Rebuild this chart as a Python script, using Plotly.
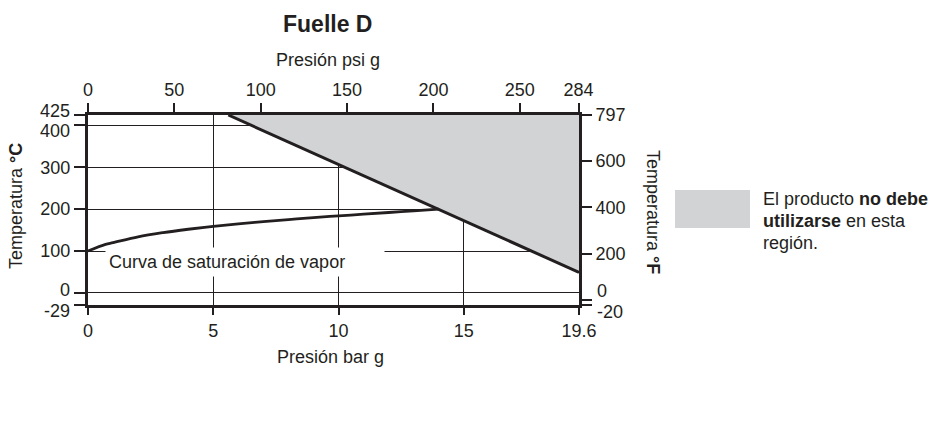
import plotly.graph_objects as go

# ---------------- data ----------------
BAR_TICKS = [0, 5, 10, 15, 19.6]
PSI_TICKS = [0, 50, 100, 150, 200, 250, 284]
C_TICKS = [-29, 0, 100, 200, 300, 400, 425]
F_TICKS = [-20, 0, 200, 400, 600, 797]

BAR_MIN, BAR_MAX = 0, 19.6
C_MIN, C_MAX = -29, 425
PSI_PER_BAR = 14.5038

# saturation curve (bar g, °C)
sat_bar = [0, 0.7, 1, 2, 3, 4, 5, 6, 7, 8, 9, 10, 11, 12, 13, 14]
sat_c = [100, 116, 120, 134, 144, 152, 159, 165, 170, 175, 180, 184, 188, 192, 196, 200]

# operating limit line (bar g, °C)
limit_bar = [5.6, 19.6]
limit_c = [425, 49]

# ---------------- style ----------------
INK = "#231f20"
GRAY = "#d1d3d4"
FONT = "Arial, Liberation Sans, sans-serif"
W, H = 933, 426
L, R_EDGE, T, B_EDGE = 88, 579, 115, 305
PW, PH = R_EDGE - L, B_EDGE - T


def px(xp):
    return (xp - L) / PW


def py(yp):
    return (B_EDGE - yp) / PH


def c_to_f(c):
    return c * 9 / 5 + 32


def label(v):
    return str(v)


# tick labels that sit too close to a neighbour are drawn as shifted annotations
C_EDGE_LABELS = {425: 4, 400: -6, 0: 3, -29: -6}   # value -> vertical pixel shift
F_EDGE_LABELS = {0: 9, -20: -7}

fig = go.Figure()

# forbidden region (fill)
fig.add_trace(go.Scatter(
    x=limit_bar + [BAR_MAX], y=limit_c + [C_MAX],
    fill="toself", fillcolor=GRAY, mode="none",
    hoverinfo="skip", showlegend=False))

# limit line
fig.add_trace(go.Scatter(
    x=limit_bar, y=limit_c, mode="lines",
    line=dict(color=INK, width=3), showlegend=False))

# saturation curve
fig.add_trace(go.Scatter(
    x=sat_bar, y=sat_c, mode="lines", line_shape="spline",
    line=dict(color=INK, width=2.8), showlegend=False))

# invisible trace to carry the secondary axes
fig.add_trace(go.Scatter(
    x=[0, BAR_MAX * PSI_PER_BAR], y=[c_to_f(C_MIN), c_to_f(C_MAX)],
    xaxis="x2", yaxis="y2", mode="none", hoverinfo="skip", showlegend=False))

tickfont = dict(family=FONT, size=18, color=INK)

fig.update_layout(
    width=W, height=H,
    margin=dict(l=L, r=W - R_EDGE, t=T, b=H - B_EDGE, pad=0),
    paper_bgcolor="white", plot_bgcolor="white",
    font=dict(family=FONT, color=INK),
    xaxis=dict(range=[BAR_MIN, BAR_MAX], tickvals=BAR_TICKS,
               ticktext=[label(v) for v in BAR_TICKS],
               showgrid=True, gridcolor=INK, gridwidth=1,
               showline=True, linecolor=INK, linewidth=3,
               ticks="outside", ticklen=7, tickwidth=1.5, tickcolor=INK,
               tickfont=tickfont, zeroline=False, fixedrange=True),
    yaxis=dict(range=[C_MIN, C_MAX], tickvals=C_TICKS,
               ticktext=["" if v in C_EDGE_LABELS else label(v) for v in C_TICKS],
               showgrid=True, gridcolor=INK, gridwidth=1,
               showline=True, linecolor=INK, linewidth=3,
               ticks="outside", ticklen=11, tickwidth=1.5, tickcolor=INK,
               tickfont=tickfont, zeroline=False, fixedrange=True),
    xaxis2=dict(range=[0, BAR_MAX * PSI_PER_BAR], tickvals=PSI_TICKS,
                ticktext=[label(v) for v in PSI_TICKS],
                overlaying="x", side="top", anchor="y2",
                showgrid=False, showline=True, linecolor=INK, linewidth=3,
                ticks="outside", ticklen=9, tickwidth=1.5, tickcolor=INK,
                tickfont=tickfont, zeroline=False, fixedrange=True),
    yaxis2=dict(range=[c_to_f(C_MIN), c_to_f(C_MAX)], tickvals=F_TICKS,
                ticktext=["" if v in F_EDGE_LABELS else label(v) for v in F_TICKS],
                overlaying="y", side="right", anchor="x2",
                showgrid=False, showline=True, linecolor=INK, linewidth=3,
                ticks="outside", ticklen=10, tickwidth=1.5, tickcolor=INK,
                tickfont=tickfont, zeroline=False, fixedrange=True),
)


def text_ann(text, x, y, size=18, **kw):
    d = dict(text=text, xref="paper", yref="paper", x=x, y=y,
             xanchor="center", yanchor="middle", showarrow=False,
             font=dict(family=FONT, size=size, color=INK))
    d.update(kw)
    return d


ann = []
# title
ann.append(text_ann("<b>Fuelle D</b>", px(327), py(24), size=23))
# axis titles
ann.append(text_ann("Presión psi g", px(328), py(60)))
ann.append(text_ann("Presión bar g", px(330), py(357)))
ann.append(text_ann("Temperatura <b>°C</b>", px(16), py(206), textangle=-90))
ann.append(text_ann("Temperatura <b>°F</b>", px(653), py(212), textangle=90))

# crowded tick labels (hyphen minus as in the original)
for v, shift in C_EDGE_LABELS.items():
    ann.append(dict(text=label(v), xref="paper", yref="y", x=0, y=v,
                    xanchor="right", yanchor="middle", xshift=-16, yshift=shift,
                    showarrow=False, font=tickfont))
for v, shift in F_EDGE_LABELS.items():
    ann.append(dict(text=label(v), xref="paper", yref="y2", x=1, y=v,
                    xanchor="left", yanchor="middle", xshift=16, yshift=shift,
                    showarrow=False, font=tickfont))

# curve label (white box interrupting grid lines)
ann.append(dict(text="Curva de saturación de vapor", xref="x", yref="y",
                x=0.68, y=74, xanchor="left", yanchor="middle",
                showarrow=False, align="left", width=272, height=22,
                bgcolor="white", borderpad=3,
                font=dict(family=FONT, size=18, color=INK)))
# legend text
for txt, yy in [("El producto <b>no debe</b>", 199),
                ("<b>utilizarse</b> en esta", 221),
                ("región.", 243)]:
    ann.append(text_ann(txt, px(761), py(yy), xanchor="left", align="left"))

fig.update_layout(annotations=ann)

fig.add_shape(type="rect", xref="paper", yref="paper",
              x0=px(675), x1=px(750), y0=py(228), y1=py(190),
              fillcolor=GRAY, line=dict(width=0), layer="above")

fig.write_html("out.html")
